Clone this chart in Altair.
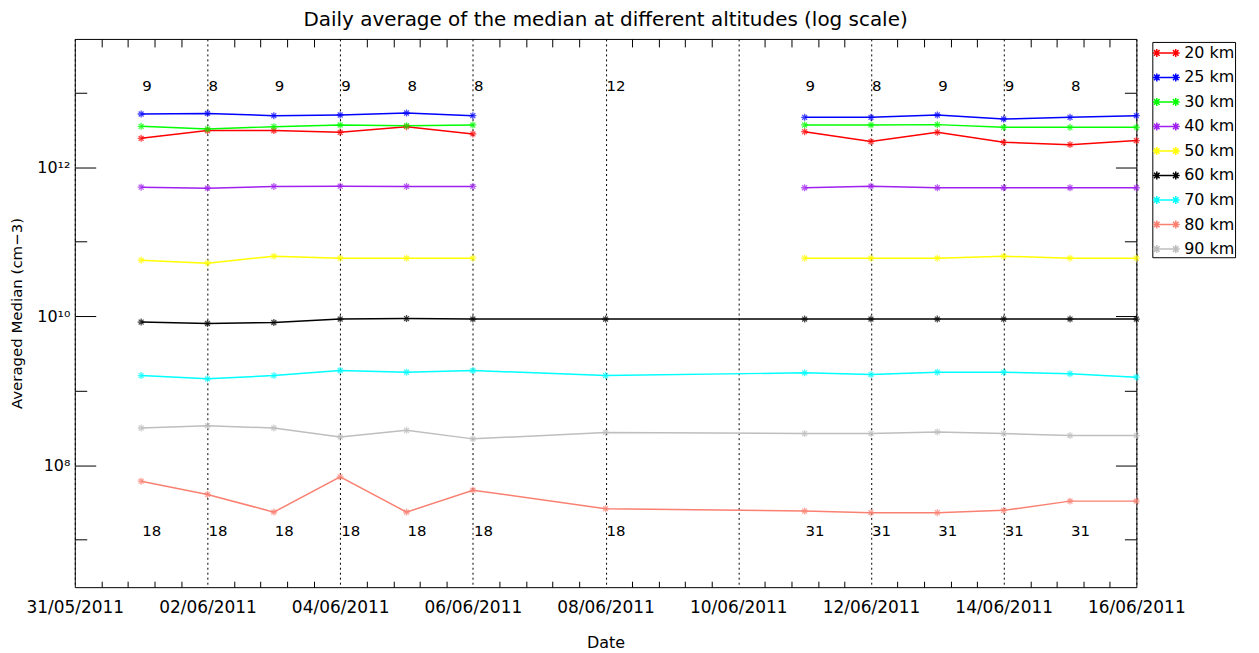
import altair as alt
import pandas as pd

# ---------------- data ----------------
SERIES = ["20 km", "25 km", "30 km", "40 km", "50 km", "60 km", "70 km", "80 km", "90 km"]
COLORS = ["#ff0000", "#0000ff", "#00ff00", "#a020f0", "#ffff00",
          "#000000", "#00ffff", "#fa8072", "#bebebe"]
UPPER_SERIES = ["20 km", "25 km", "30 km", "40 km", "50 km"]

DAYS_UPPER = ["2011-06-01", "2011-06-02", "2011-06-03", "2011-06-04", "2011-06-05", "2011-06-06",
              "2011-06-11", "2011-06-12", "2011-06-13", "2011-06-14", "2011-06-15", "2011-06-16"]
DAYS_LOWER = ["2011-06-01", "2011-06-02", "2011-06-03", "2011-06-04", "2011-06-05", "2011-06-06",
              "2011-06-08",
              "2011-06-11", "2011-06-12", "2011-06-13", "2011-06-14", "2011-06-15", "2011-06-16"]
SECOND_CAMPAIGN = "2011-06-11"

V20 = [2.44e12, 3.10e12, 3.10e12, 2.94e12, 3.50e12, 2.80e12,
       3.00e12, 2.21e12, 2.94e12, 2.16e12, 2.01e12, 2.28e12]
V25 = [5.18e12, 5.28e12, 4.92e12, 5.02e12, 5.34e12, 4.92e12,
       4.67e12, 4.67e12, 5.02e12, 4.44e12, 4.67e12, 4.92e12]
V30 = [3.54e12, 3.26e12, 3.50e12, 3.69e12, 3.61e12, 3.69e12,
       3.69e12, 3.69e12, 3.73e12, 3.43e12, 3.43e12, 3.43e12]
V40 = [5.40e11, 5.24e11, 5.52e11, 5.57e11, 5.52e11, 5.52e11,
       5.30e11, 5.57e11, 5.30e11, 5.30e11, 5.30e11, 5.30e11]
V50 = [5.65e10, 5.15e10, 6.39e10, 6.01e10, 6.01e10, 6.01e10,
       6.01e10, 6.01e10, 6.01e10, 6.39e10, 6.01e10, 6.01e10]
V60 = [8.36e9, 7.99e9, 8.24e9, 9.17e9, 9.31e9, 9.17e9, 9.17e9,
       9.17e9, 9.17e9, 9.17e9, 9.17e9, 9.17e9, 9.17e9]
V70 = [1.60e9, 1.445e9, 1.60e9, 1.87e9, 1.77e9, 1.87e9, 1.60e9,
       1.74e9, 1.65e9, 1.77e9, 1.77e9, 1.69e9, 1.52e9]
V80 = [6.11e7, 4.06e7, 2.35e7, 7.00e7, 2.35e7, 4.63e7, 2.61e7,
       2.43e7, 2.31e7, 2.31e7, 2.48e7, 3.30e7, 3.30e7]
V90 = [3.16e8, 3.40e8, 3.16e8, 2.40e8, 2.94e8, 2.26e8, 2.76e8,
       2.66e8, 2.66e8, 2.80e8, 2.66e8, 2.50e8, 2.50e8]

COUNT_DAYS = ["2011-06-01", "2011-06-02", "2011-06-03", "2011-06-04", "2011-06-05", "2011-06-06",
              "2011-06-08", "2011-06-11", "2011-06-12", "2011-06-13", "2011-06-14", "2011-06-15"]
TOP_COUNTS = ["9", "8", "9", "9", "8", "8", "12", "9", "8", "9", "9", "8"]
BOTTOM_COUNTS = ["18", "18", "18", "18", "18", "18", "18", "31", "31", "31", "31", "31"]
TOP_COUNT_LEVEL = 1.24e13
BOTTOM_COUNT_LEVEL = 1.31e7

X_START, X_END = "2011-05-31", "2011-06-16"
TICK_DATES = ["2011-05-31", "2011-06-02", "2011-06-04", "2011-06-06", "2011-06-08",
              "2011-06-10", "2011-06-12", "2011-06-14", "2011-06-16"]
MINOR_STEP_DAYS = 0.4
Y_DOMAIN = [2.31e6, 5.27e13]
Y_MAJOR = [1e8, 1e10, 1e12]
Y_MAJOR_LABELS = ["10⁸", "10¹⁰", "10¹²"]
Y_MINOR = [1e7, 1e9, 1e11, 1e13]

TITLE = "Daily average of the median at different altitudes (log scale)"
X_TITLE = "Date"
Y_TITLE = "Averaged Median (cm−3)"

# ---------------- build tables ----------------
DAY_MS = 86400000


def ms(d):
    return int(pd.Timestamp(d, tz="UTC").value // 10**6)


rows = []
for name, vals in zip(SERIES, [V20, V25, V30, V40, V50, V60, V70, V80, V90]):
    days = DAYS_UPPER if name in UPPER_SERIES else DAYS_LOWER
    for d, v in zip(days, vals):
        part = "b" if (name in UPPER_SERIES and d >= SECOND_CAMPAIGN) else "a"
        rows.append({"date": d, "value": v, "series": name, "seg": name + "|" + part})
df = pd.DataFrame(rows)

top_df = pd.DataFrame({"date": COUNT_DAYS, "label": TOP_COUNTS, "level": TOP_COUNT_LEVEL})
bot_df = pd.DataFrame({"date": COUNT_DAYS, "label": BOTTOM_COUNTS, "level": BOTTOM_COUNT_LEVEL})

x0 = ms(X_START)
n_minor = int(round((ms(X_END) - x0) / (MINOR_STEP_DAYS * DAY_MS)))
MINOR_MS = [x0 + k * MINOR_STEP_DAYS * DAY_MS for k in range(1, n_minor) if k % 5 != 0]
TICK_MS = [ms(d) for d in TICK_DATES]

W, H = 1065, 550
FONT = "DejaVu Sans"

xs = alt.Scale(type="utc", domain=[x0, ms(X_END)])
ys = alt.Scale(type="log", domain=Y_DOMAIN, nice=False)
cs = alt.Scale(domain=SERIES, range=COLORS)

ylabel_expr = " : ".join(
    [f"datum.value == {v:g} ? '{t}'" for v, t in zip(Y_MAJOR, Y_MAJOR_LABELS)] + ["''"])

STAR = "M0,-1L0,1M-1,0L1,0M-0.7,-0.7L0.7,0.7M-0.7,0.7L0.7,-0.7"


def star(cx, r=0.4):
    d = r * 0.7
    return (f"M{cx},{-r}L{cx},{r}M{cx - r},0L{cx + r},0"
            f"M{cx - d},{-d}L{cx + d},{d}M{cx - d},{d}L{cx + d},{-d}")


LEGEND_SYMBOL = "M-1,0L1.6,0" + star(-0.65) + star(1.25)

lines = alt.Chart(df).mark_line(strokeWidth=1.5).encode(
    x=alt.X("date:T", scale=xs, axis=alt.Axis(
        orient="bottom", values=TICK_MS,
        labelExpr="utcFormat(datum.value, '%d/%m/%Y')",
        grid=True, gridDash=[2, 3], gridColor="black", gridWidth=1, gridOpacity=1,
        ticks=False, domain=False, labelFont=FONT, labelFontSize=17, labelColor="black",
        labelPadding=12, labelFlush=False, labelOverlap=False, labelBound=False,
        title=X_TITLE, titleFont=FONT, titleFontSize=16, titleFontWeight="normal",
        titleColor="black", titlePadding=20)),
    y=alt.Y("value:Q", scale=ys, axis=alt.Axis(
        orient="left", values=Y_MAJOR, labelExpr=ylabel_expr, ticks=False, grid=False,
        domain=False, labelFont=FONT, labelFontSize=16, labelColor="black", labelPadding=5,
        labelOverlap=False, labelFlush=False,
        title=Y_TITLE, titleFont=FONT, titleFontSize=15, titleFontWeight="normal",
        titleColor="black", titlePadding=12)),
    color=alt.Color("series:N", scale=cs, legend=alt.Legend(
        title=None, orient="none", legendX=1081, legendY=3,
        symbolType=LEGEND_SYMBOL, symbolSize=400, symbolStrokeWidth=1.5,
        labelFont=FONT, labelFontSize=16, labelColor="black", labelOffset=10,
        rowPadding=5.6, padding=0, strokeColor="black", fillColor="white")),
    detail="seg:N",
)

points = alt.Chart(df).mark_point(shape=STAR, size=49, filled=False, strokeWidth=1.3).encode(
    x=alt.X("date:T", scale=xs, axis=None),
    y=alt.Y("value:Q", scale=ys, axis=None),
    color=alt.Color("series:N", scale=cs, legend=None),
)


def count_layer(data):
    return alt.Chart(data).mark_text(align="left", baseline="middle", dx=1,
                                     font=FONT, fontSize=15, color="black").encode(
        x=alt.X("date:T", scale=xs, axis=None),
        y=alt.Y("level:Q", scale=ys, axis=None),
        text="label:N",
    )


anchor_df = pd.DataFrame({"date": [X_START], "value": [1e10]})


def tick_layer(xaxis, yaxis):
    return alt.Chart(anchor_df).mark_point(opacity=0).encode(
        x=alt.X("date:T", scale=xs, axis=xaxis),
        y=alt.Y("value:Q", scale=ys, axis=yaxis),
    )


def tick_axis(orient, offset, values, size):
    return alt.Axis(orient=orient, offset=offset, values=values, labels=False, domain=False,
                    grid=False, ticks=True, tickSize=size, tickColor="black", tickWidth=1,
                    title=None)


tA = tick_layer(tick_axis("top", -H, MINOR_MS, 6), tick_axis("right", -W, Y_MAJOR, 21))
tB = tick_layer(tick_axis("bottom", -H, MINOR_MS, 8), tick_axis("right", -W, Y_MINOR, 12))
tC = tick_layer(None, tick_axis("left", -W, Y_MAJOR, 21))
tD = tick_layer(None, tick_axis("left", -W, Y_MINOR, 12))

chart = alt.layer(lines, points, count_layer(top_df), count_layer(bot_df), tA, tB, tC, tD).resolve_axis(
    x="independent", y="independent"
).properties(
    width=W, height=H,
    title=alt.TitleParams(TITLE, font=FONT, fontSize=20, fontWeight="normal", color="black",
                          anchor="middle", offset=8),
    autosize=alt.AutoSizeParams(type="none"),
    padding={"left": 67, "top": 30, "right": 115, "bottom": 64},
).configure_view(stroke="black", strokeWidth=1)

chart.save("out.html", embed_options={"renderer": "svg", "actions": False})
